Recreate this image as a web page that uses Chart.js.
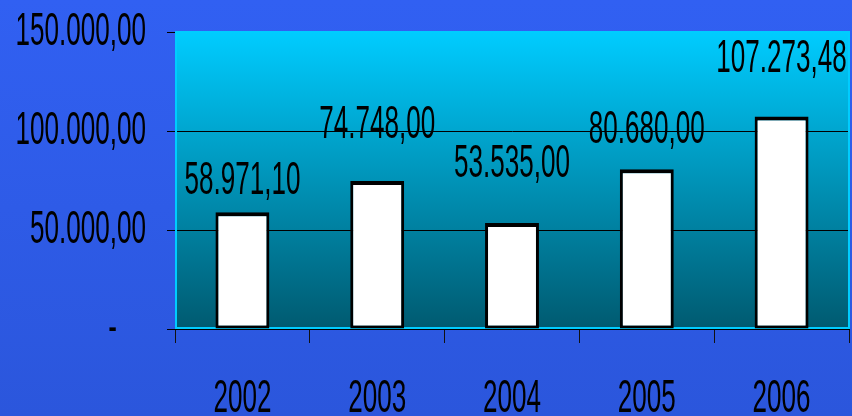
<!DOCTYPE html>
<html>
<head>
<meta charset="utf-8">
<script src="https://cdn.jsdelivr.net/npm/chart.js@4"></script>
<style>
  html, body { margin: 0; padding: 0; background: #2f5cea; }
  #wrap { width: 852px; height: 416px; }
</style>
</head>
<body>
<div id="wrap"><canvas id="chart" width="852" height="416"></canvas></div>
<script>
// Data
const years = ['2002', '2003', '2004', '2005', '2006'];
const amounts = [58971.10, 74748.00, 53535.00, 80680.00, 107273.48];
const yTicks = [0, 50000, 100000, 150000];
const yTickLabels = ['-    ', '50.000,00', '100.000,00', '150.000,00'];

// Label gap above each bar (px) - labels were hand placed in the original
const labelGaps = [18, 43, 46, 26, 45];

const FONT = '46px "Liberation Sans Narrow", "Liberation Sans", Arial, sans-serif';
const DIGIT_W = 14.5;

function fmt(v) {
    const [int, dec] = v.toFixed(2).split('.');
    return int.replace(/\B(?=(\d{3})+(?!\d))/g, '.') + ',' + dec;
}

// tall condensed text, like the original
function stretchedText(ctx, text, x, y, align) {
    ctx.save();
    ctx.font = FONT;
    const sx = DIGIT_W / ctx.measureText('0').width;
    ctx.translate(x, y);
    ctx.scale(sx, 1);
    ctx.textAlign = align;
    ctx.textBaseline = 'alphabetic';
    ctx.fillStyle = '#000';
    ctx.fillText(text, 0, 0);
    ctx.restore();
}

const backgrounds = {
    id: 'backgrounds',
    beforeDraw(chart) {
        const { ctx, chartArea: a, width, height } = chart;
        ctx.save();
        const outer = ctx.createLinearGradient(0, 0, 0, height);
        outer.addColorStop(0, '#3160f2');
        outer.addColorStop(1, '#2b56dc');
        ctx.fillStyle = outer;
        ctx.fillRect(0, 0, width, height);
        const inner = ctx.createLinearGradient(0, a.top, 0, a.bottom);
        inner.addColorStop(0, '#00ccff');
        inner.addColorStop(1, '#005a70');
        ctx.fillStyle = inner;
        ctx.fillRect(a.left, a.top, a.right - a.left, a.bottom - a.top);
        ctx.restore();
    },
    beforeDatasetsDraw(chart) {
        const { ctx, chartArea: a } = chart;
        ctx.save();
        ctx.strokeStyle = '#00ccff';
        ctx.lineWidth = 2;
        ctx.strokeRect(a.left + 1, a.top, a.right - a.left - 1, a.bottom - a.top - 1);
        ctx.restore();
    }
};

const labels = {
    id: 'labels',
    afterDraw(chart) {
        const ctx = chart.ctx;
        const x = chart.scales.x;
        const y = chart.scales.y;
        // value labels
        chart.getDatasetMeta(0).data.forEach((bar, i) => {
            stretchedText(ctx, fmt(amounts[i]), bar.x, bar.y - labelGaps[i], 'center');
        });
        // y tick labels
        yTicks.forEach((v, i) => {
            stretchedText(ctx, yTickLabels[i], 146, y.getPixelForValue(v) + 13, 'right');
        });
        // x tick labels
        years.forEach((yr, i) => {
            stretchedText(ctx, yr, x.getPixelForValue(i), 412, 'center');
        });
    }
};

new Chart(document.getElementById('chart').getContext('2d'), {
    type: 'bar',
    data: {
        labels: years,
        datasets: [{
            data: amounts,
            backgroundColor: '#ffffff',
            borderColor: '#000000',
            borderWidth: { top: 4, left: 3, right: 3, bottom: 3 },
            borderSkipped: false,
            categoryPercentage: 1,
            barPercentage: 0.4
        }]
    },
    options: {
        responsive: false,
        animation: false,
        devicePixelRatio: 1,
        layout: { padding: { top: 32, right: 3, left: 0, bottom: 0 } },
        plugins: {
            legend: { display: false },
            tooltip: { enabled: false }
        },
        scales: {
            x: {
                offset: true,
                grid: {
                    offset: true,
                    drawOnChartArea: false,
                    tickLength: 14,
                    tickColor: '#111'
                },
                border: { display: true, color: '#000', width: 1 },
                ticks: { display: false },
                afterFit(scale) { scale.height = 87; }
            },
            y: {
                min: 0,
                max: 150000,
                ticks: { display: false, stepSize: 50000 },
                grid: {
                    color: c => (c.tick && (c.tick.value === 50000 || c.tick.value === 100000)) ? '#000' : 'rgba(0,0,0,0)',
                    tickColor: '#000',
                    tickLength: 8
                },
                border: { display: true, color: '#000', width: 1 },
                afterFit(scale) { scale.width = 175; }
            }
        }
    },
    plugins: [backgrounds, labels]
});
</script>
</body>
</html>
